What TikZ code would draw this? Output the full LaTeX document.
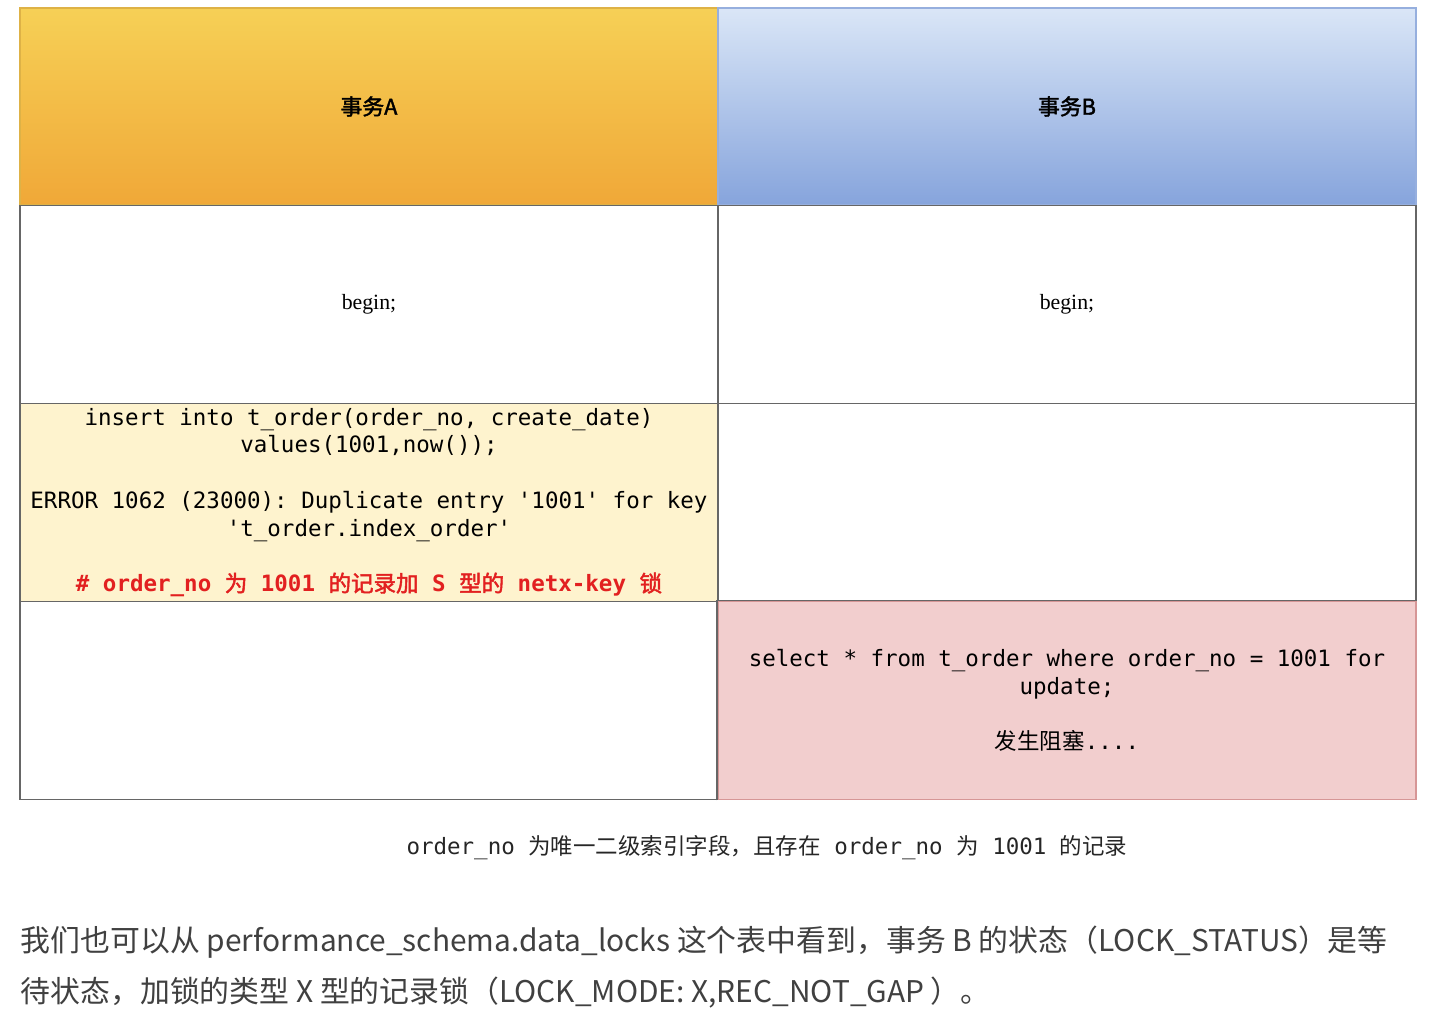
\documentclass[tikz,border=0pt]{standalone}
\usepackage{fontspec}
\setmainfont{Liberation Serif}
\setmonofont{DejaVu Sans Mono}
\newfontfamily\cjk[AutoFakeBold=2]{Noto Sans CJK SC}
\usetikzlibrary{positioning}

\definecolor{headAtop}{RGB}{246,208,86}
\definecolor{headAbot}{RGB}{240,168,56}
\definecolor{headAline}{RGB}{222,178,70}
\definecolor{headBtop}{RGB}{218,230,247}
\definecolor{headBbot}{RGB}{134,164,220}
\definecolor{headBline}{RGB}{150,175,222}
\definecolor{insfill}{RGB}{254,243,206}
\definecolor{blkfill}{RGB}{242,206,206}
\definecolor{blkline}{RGB}{214,150,150}
\definecolor{lockred}{RGB}{226,32,32}

\begin{document}
\begin{tikzpicture}[node distance = 1.98cm and 6.98cm, on grid,
	cell/.style={draw=black!60, line width=0.5pt, fill=white, minimum width=6.98cm, minimum height=1.98cm, inner sep=0pt, align=center, font=\fontsize{6.4pt}{7.9pt}\selectfont\ttfamily},
	head/.style={cell, minimum height=1.97cm, font=\fontsize{6.2pt}{7.5pt}\selectfont\cjk\bfseries}]
			\useasboundingbox (0,0) rectangle (14.4,-10.2);

			\node[head, top color=headAtop, bottom color=headAbot, draw=headAline] (ta) at (3.69,-1.065) {事务A};
			\node[head, top color=headBtop, bottom color=headBbot, draw=headBline, right=of ta] (tb) {事务B};
			\draw[black!60, line width=0.5pt] (ta.south west) -- (tb.south east);

			\node[cell, below=of ta, font=\fontsize{6.2pt}{7.5pt}\selectfont\rmfamily] (a1) {begin;};
			\node[cell, below=of tb, font=\fontsize{6.2pt}{7.5pt}\selectfont\rmfamily] (b1) {begin;};
			\node[cell, below=of b1] (b2) {};
			\node[cell, below=of a1, fill=insfill] (a2) {insert into t\_order(order\_no, create\_date)\\
				values(1001,now());\\[7.9pt]
				ERROR 1062 (23000): Duplicate entry '1001' for key\\
				't\_order.index\_order'\\[7.9pt]
				\textcolor{lockred}{\bfseries\# order\_no {\cjk 为} 1001 {\cjk 的记录加} S {\cjk 型的} netx-key {\cjk 锁}}};
			\node[cell, below=of a2] (a3) {};
			\node[cell, below=of b2, fill=blkfill, draw=blkline] (b3) {select * from t\_order where order\_no = 1001 for\\
				update;\\[7.9pt]
				{\cjk 发生阻塞}....};
			\draw[black!60, line width=0.5pt] (b3.south west) -- (b3.north west) -- (b3.north east);

			\node[inner sep=0pt, text=black!85, font=\fontsize{6.4pt}{7.9pt}\selectfont\ttfamily] (cap) at (7.67,-8.48) {order\_no {\cjk 为唯一二级索引字段，且存在} order\_no {\cjk 为} 1001 {\cjk 的记录}};

			\node[anchor=west, inner sep=0pt, text=black!75, font=\fontsize{8.5pt}{10pt}\selectfont\cjk] (p1) at (0.2,-9.42) {我们也可以从 performance\_schema.data\_locks 这个表中看到，事务 B 的状态（LOCK\_STATUS）是等};
			\node[anchor=west, inner sep=0pt, text=black!75, font=\fontsize{8.5pt}{10pt}\selectfont\cjk] (p2) at (0.2,-9.93) {待状态，加锁的类型 X 型的记录锁（LOCK\_MODE: X,REC\_NOT\_GAP ）。};

		\end{tikzpicture}
\end{document}
